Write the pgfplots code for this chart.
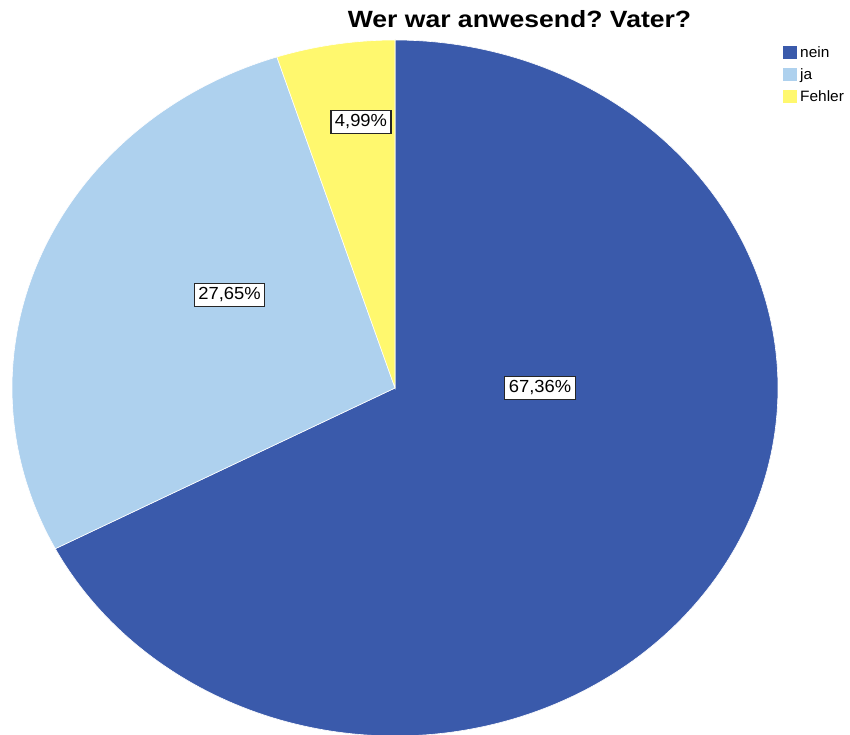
\documentclass[border=0pt]{standalone}
\usepackage{fontspec}
\setmainfont{Liberation Sans}
\newfontfamily\titlefont[FakeStretch=1.13]{Liberation Sans}
\newfontfamily\labfont[FakeStretch=1.05]{Liberation Sans}
\newfontfamily\legfont[FakeStretch=1.03]{Liberation Sans}
\usepackage{pgfplots}
\usepackage{pgfplotstable}
\pgfplotsset{compat=1.18}
\definecolor{neinc}{HTML}{3A5AAB}
\definecolor{jac}{HTML}{AED1EE}
\definecolor{fehlerc}{HTML}{FFF86E}

\pgfplotstableread{
label value
nein 67.36
ja 27.65
Fehler 4.99
}\piedata

\begin{document}%
\frenchspacing%
\begin{tikzpicture}[x=1pt,y=1pt]
\pgfplotstablegetelem{0}{value}\of\piedata \let\vA\pgfplotsretval
\pgfplotstablegetelem{1}{value}\of\piedata \let\vB\pgfplotsretval
\pgfplotstablegetelem{2}{value}\of\piedata \let\vC\pgfplotsretval
\pgfmathsetmacro{\aA}{90}
\pgfmathsetmacro{\aB}{\aA-3.6*\vA}
\pgfmathsetmacro{\aC}{\aB-3.6*\vB}
\pgfmathsetmacro{\aD}{\aC-3.6*\vC}
\begin{axis}[
  at={(12pt,-1pt)}, anchor=south west,
  scale only axis, width=766pt, height=696pt,
  xmin=-1, xmax=1, ymin=-1, ymax=1,
  hide axis, clip=false,
  legend style={at={(1.0065,0.997)}, anchor=north west, draw=none, fill=none,
    font=\legfont\fontsize{15}{15}\selectfont, inner sep=0pt, row sep=0pt,
    nodes={text height=12pt, text depth=4pt, inner ysep=3pt, inner xsep=3pt}},
  legend cell align=left,
  legend image code/.code={\fill[#1, draw=none] (0pt,-5.5pt) rectangle (14pt,7.5pt);},
]
\addplot[fill=neinc, draw=white, line width=0.6pt, domain=\aB:\aA, samples=200, variable=\t]
  ({cos(\t)},{sin(\t)}) -- (axis cs:0,0) -- cycle;
\addlegendentry{nein}
\addplot[fill=jac, draw=white, line width=0.6pt, domain=\aC:\aB, samples=120, variable=\t]
  ({cos(\t)},{sin(\t)}) -- (axis cs:0,0) -- cycle;
\addlegendentry{ja}
\addplot[fill=fehlerc, draw=white, line width=0.6pt, domain=\aD:\aC, samples=40, variable=\t]
  ({cos(\t)},{sin(\t)}) -- (axis cs:0,0) -- cycle;
\addlegendentry{Fehler}
\end{axis}
\node[font=\titlefont\bfseries\fontsize{23.5}{23.5}\selectfont, anchor=base, inner sep=0pt] at (519.5,707) {Wer war anwesend? Vater?};
\tikzset{lab/.style={draw=black!85, line width=1.2pt, fill=white, font=\labfont\fontsize{17.5}{17.5}\selectfont, inner xsep=4pt, minimum height=23pt}}
\node[lab] at (540,347) {67,36\%};
\node[lab] at (229.5,440) {27,65\%};
\node[lab] at (361,613) {4,99\%};
\pgfresetboundingbox
\useasboundingbox (0,0) rectangle (850,735);
\end{tikzpicture}%
\end{document}
